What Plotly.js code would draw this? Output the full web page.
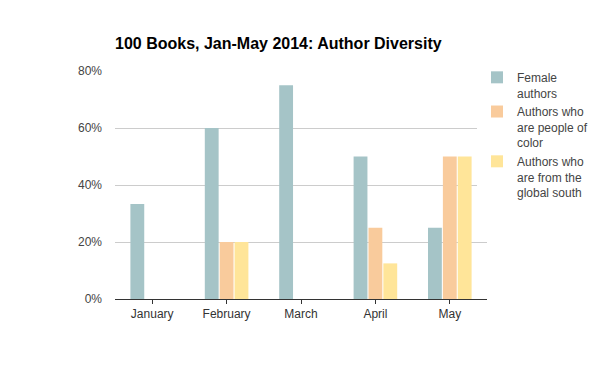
<!DOCTYPE html>
<html><head><meta charset="utf-8">
<script src="https://cdn.plot.ly/plotly-3.0.1.min.js"></script>
<style>body{margin:0;padding:0;background:#fff}#chart{width:600px;height:371px}</style>
</head><body><div id="chart"></div>
<script>
const months = ["January","February","March","April","May"];
const female = [0.333, 0.60, 0.75, 0.50, 0.25];
const poc = [0, 0.20, 0, 0.25, 0.50];
const globalSouth = [0, 0.20, 0, 0.125, 0.50];
const seriesNames = ["Female<br>authors","Authors who<br>are people of<br>color","Authors who<br>are from the<br>global south"];
const colors = ["#a5c4c7","#f9cb9c","#ffe599"];
const yTicks = [0,0.2,0.4,0.6,0.8];
const yTickText = ["0%","20%","40%","60%","80%"];

const data = [female, poc, globalSouth].map((v,i)=>({
  type:'bar', x:months, y:v, name:seriesNames[i],
  marker:{color:colors[i]}, hoverinfo:'none'
}));
const layout = {
  width:600, height:371,
  margin:{l:115,r:113,t:71,b:72, autoexpand:false},
  paper_bgcolor:'#fff', plot_bgcolor:'#fff',
  font:{family:'Liberation Sans, Arial, sans-serif', size:12, color:'#444'},
  title:{text:'<b>100 Books, Jan-May 2014: Author Diversity</b>', x:0, xref:'paper', xanchor:'left', y:1, yref:'container', yanchor:'top', pad:{t:38}, font:{size:16, color:'#000', family:'Liberation Sans, Arial, sans-serif'}},
  barmode:'group', bargap:0.4, bargroupgap:0.07,
  xaxis:{showgrid:false, showline:true, linecolor:'#333', linewidth:1, ticks:'outside', ticklen:4, tickcolor:'#333', tickfont:{size:12,color:'#333'}, fixedrange:true},
  yaxis:{range:[0,0.8], tickvals:yTicks, ticktext:yTickText, showgrid:true, gridcolor:'#ccc', zeroline:false, showline:false, ticks:'', ticklabelstandoff:12, tickfont:{size:12,color:'#444'}, fixedrange:true},
  legend:{x:0.795, xref:'container', xanchor:'left', y:1.035, yanchor:'top', valign:'top', font:{size:12,color:'#444'}, tracegroupgap:3, itemwidth:30},
  showlegend:true
};
Plotly.newPlot('chart', data, layout, {displayModeBar:false, staticPlot:true});
</script></body></html>
